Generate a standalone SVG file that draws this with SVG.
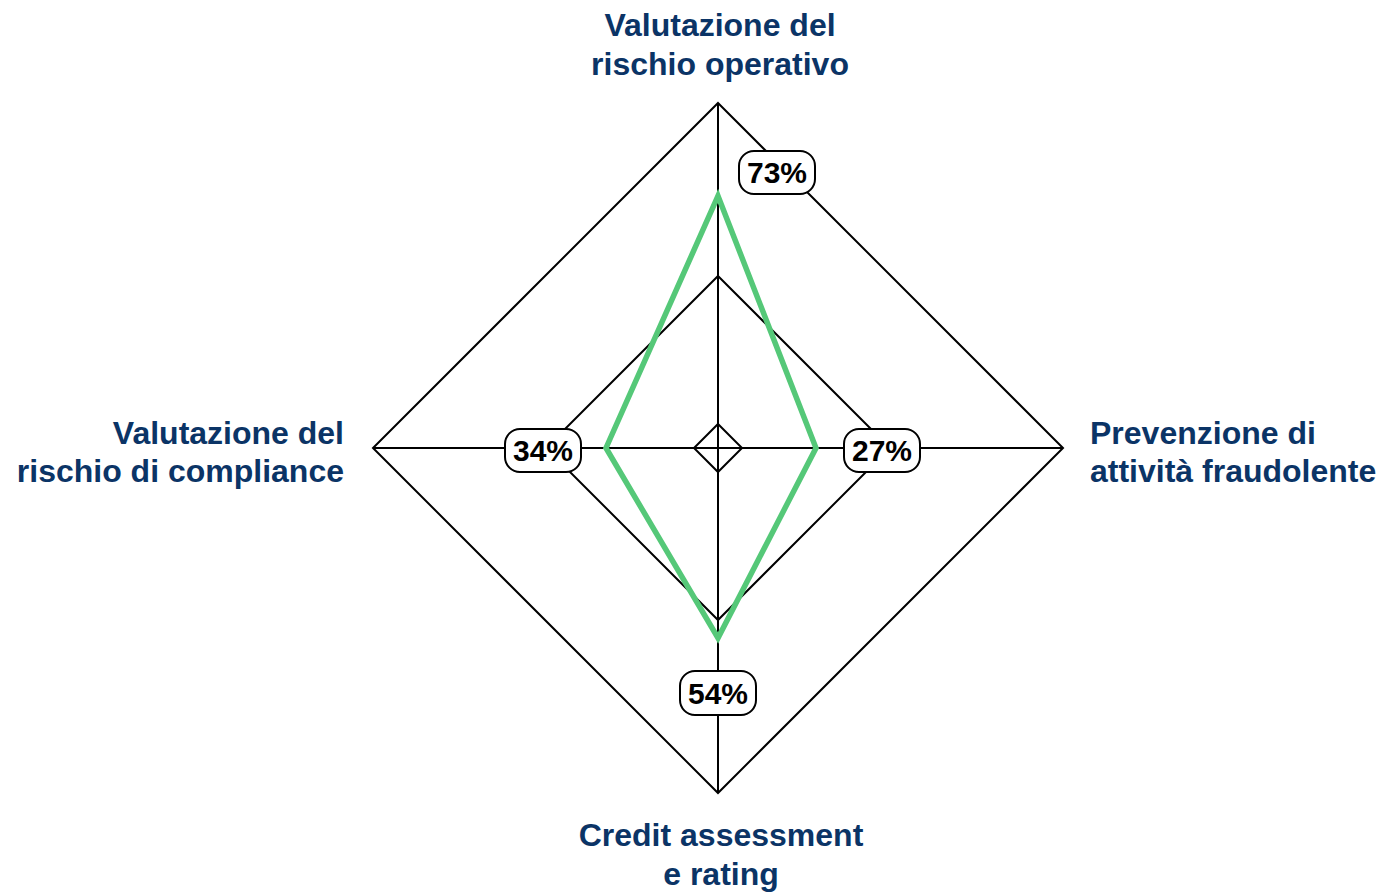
<svg xmlns="http://www.w3.org/2000/svg" width="1382" height="892" viewBox="0 0 1382 892">
<style>
.grid{fill:none;stroke:#000;stroke-width:2}
.data{fill:none;stroke:#55c878;stroke-width:5.5;stroke-linejoin:miter}
.box{fill:#fff;stroke:#000;stroke-width:2}
.val{font-family:"Liberation Sans",Arial,sans-serif;font-weight:bold;font-size:30px;fill:#000;text-anchor:middle}
.axl{font-family:"Liberation Sans",Arial,sans-serif;font-weight:bold;font-size:32px;fill:#0b3466}
</style>
<rect width="1382" height="892" fill="#fff"/>
<g id="grid">
<polygon class="grid" points="718,103 1063,448 718,793 373,448"/>
<polygon class="grid" points="718,276 890,448 718,620 546,448"/>
<polygon class="grid" points="718,424 742,448 718,472 694,448"/>
<line class="grid" x1="718" y1="103" x2="718" y2="793"/>
<line class="grid" x1="373" y1="448" x2="1063" y2="448"/>
</g>
<g id="series">
<polygon class="data" points="718,196 816,448 718,638 606,448"/>
</g>
<g id="label-73">
<rect class="box" x="739" y="151" width="76" height="43" rx="15"/>
<text class="val" x="777" y="183">73%</text>
</g>
<g id="label-27">
<rect class="box" x="844" y="429" width="76" height="43" rx="15"/>
<text class="val" x="882" y="461">27%</text>
</g>
<g id="label-54">
<rect class="box" x="680" y="671" width="76" height="44" rx="15"/>
<text class="val" x="718" y="703.5">54%</text>
</g>
<g id="label-34">
<rect class="box" x="505" y="429" width="76" height="43" rx="15"/>
<text class="val" x="543" y="461">34%</text>
</g>
<g id="axis-top">
<text class="axl" x="720" y="36" text-anchor="middle">Valutazione del</text>
<text class="axl" x="720" y="75" text-anchor="middle">rischio operativo</text>
</g>
<g id="axis-right">
<text class="axl" x="1090" y="444">Prevenzione di</text>
<text class="axl" x="1090" y="482">attività fraudolente</text>
</g>
<g id="axis-bottom">
<text class="axl" x="721" y="846" text-anchor="middle">Credit assessment</text>
<text class="axl" x="721" y="885" text-anchor="middle">e rating</text>
</g>
<g id="axis-left">
<text class="axl" x="344" y="444" text-anchor="end">Valutazione del</text>
<text class="axl" x="344" y="482" text-anchor="end">rischio di compliance</text>
</g>
</svg>
